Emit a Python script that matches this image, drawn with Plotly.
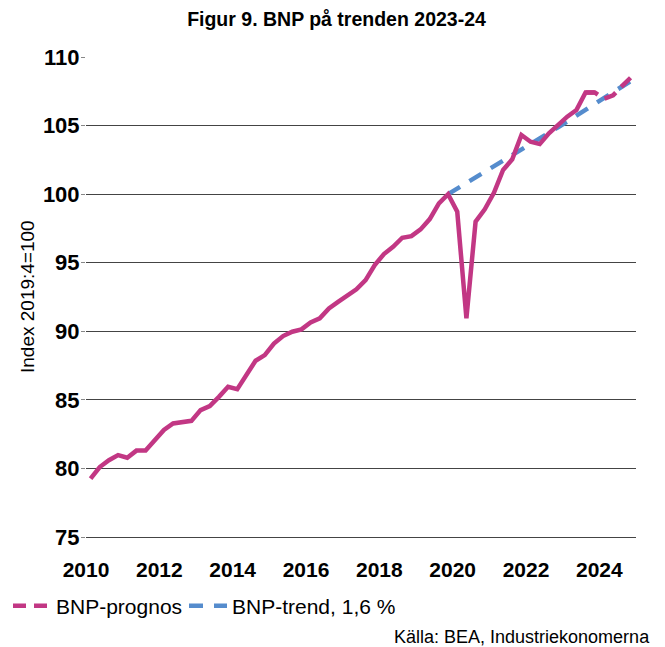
import plotly.graph_objects as go

# Quarterly BNP index (2019:4 = 100), 2010:1 .. 2023:4
start_year = 2010
bnp = [
    79.25, 80.10, 80.60, 80.97,
    80.78, 81.30, 81.30, 82.06,
    82.80, 83.28, 83.38, 83.47,
    84.25, 84.55, 85.22, 85.95,
    85.78, 86.80, 87.85, 88.26,
    89.10, 89.65, 89.97, 90.14,
    90.65, 90.94, 91.67, 92.15,
    92.59, 93.06, 93.73, 94.83,
    95.63, 96.16, 96.82, 96.94,
    97.43, 98.18, 99.33, 100.00,
    98.72, 90.95, 97.99, 98.89,
    100.10, 101.76, 102.54, 104.31,
    103.82, 103.65, 104.43, 105.09,
    105.65, 106.13, 107.42, 107.42,
]
# Forecast 2023:3 .. 2024:4
prognos_start = (2023, 3)
prognos = [107.42, 107.42, 106.95, 107.20, 107.90, 108.55]
# Trend 1,6 % per year, 2019:4 .. 2024:4
trend_start = (2019, 4)
trend = [100.00, 100.40, 100.80, 101.20, 101.60, 102.00, 102.41, 102.82,
         103.23, 103.64, 104.05, 104.47, 104.88, 105.30, 105.72, 106.14,
         106.57, 106.99, 107.42, 107.85, 108.28]

x_ticks = [2010, 2012, 2014, 2016, 2018, 2020, 2022, 2024]
y_ticks = [75, 80, 85, 90, 95, 100, 105, 110]


def qx(year, q, n):
    """x positions (mid-quarter, in years) for n quarters starting at year:q"""
    out = []
    idx = (year * 4) + (q - 1)
    for i in range(n):
        k = idx + i
        out.append(k // 4 + ((k % 4) + 0.5) / 4)
    return out


MAG = "#C23784"
BLU = "#558CCD"

fig = go.Figure()
fig.add_trace(go.Scatter(
    x=qx(*trend_start, len(trend)), y=trend, mode="lines",
    name="BNP-trend, 1,6 %", legend="legend2",
    line=dict(color=BLU, width=4.5, dash="14px,11px"),
))
fig.add_trace(go.Scatter(
    x=qx(start_year, 1, len(bnp)), y=bnp, mode="lines",
    name="BNP", showlegend=False,
    line=dict(color=MAG, width=4.5),
))
fig.add_trace(go.Scatter(
    x=qx(*prognos_start, len(prognos)), y=prognos, mode="lines",
    name="BNP-prognos", legend="legend",
    line=dict(color=MAG, width=4.5, dash="13px,8px"),
))

FONT = "Liberation Sans, Arial, sans-serif"
# the page adds an 8px body margin, so the figure is 8px smaller
OFF = 8
W, H = 665 - OFF, 647 - OFF
L, T = 86 - OFF, 57 - OFF
R = W - (636 - OFF)
B = H - (537 - OFF)
PW, PH = W - L - R, H - T - B


def px_x(px):
    return (px - OFF - L) / PW


def px_y(py):
    return (H - B - (py - OFF)) / PH


legend_common = dict(orientation="h", xref="container", yref="container",
                     xanchor="left", y=(647 - 606) / H, yanchor="middle",
                     itemwidth=38, font=dict(size=21, family=FONT, color="black"),
                     bgcolor="rgba(0,0,0,0)")

fig.update_layout(
    width=W, height=H,
    margin=dict(l=L, r=R, t=T, b=B, autoexpand=False),
    paper_bgcolor="white", plot_bgcolor="white",
    font=dict(family=FONT, color="black"),
    title=dict(text="<b>Figur 9. BNP på trenden 2023-24</b>",
               x=0.5, xanchor="center", xref="container",
               y=1 - (19 - OFF) / H, yanchor="middle", yref="container",
               automargin=False,
               font=dict(size=19.5, family=FONT, color="black")),
    xaxis=dict(range=[2010, 2025], tickvals=x_ticks,
               ticktext=[str(v) for v in x_ticks],
               showgrid=False, zeroline=False, automargin=False,
               showline=True, linecolor="#444444", linewidth=1,
               ticks="", ticklabelstandoff=14,
               tickfont=dict(size=21, family=FONT, color="black", weight="bold")),
    yaxis=dict(range=[75, 110], tickvals=y_ticks,
               showgrid=True, gridcolor="#444444", gridwidth=1,
               zeroline=False, showline=False, automargin=False,
               ticks="outside", ticklen=4, tickcolor="#888888",
               ticklabelstandoff=-3,
               tickfont=dict(size=22, family=FONT, color="black", weight="bold")),
    showlegend=True,
    legend=dict(x=0.0, **legend_common),
    legend2=dict(x=(184 - OFF) / W, **legend_common),
    annotations=[
        dict(text="Index 2019:4=100", textangle=-90,
             xref="paper", x=px_x(27), xanchor="center",
             yref="paper", y=0.5, yanchor="middle", showarrow=False,
             font=dict(size=19, family=FONT, color="black")),
        dict(text="Källa: BEA, Industriekonomerna",
             xref="paper", x=px_x(652), xanchor="right",
             yref="paper", y=px_y(637), yanchor="middle", showarrow=False,
             font=dict(size=18, family=FONT, color="black")),
    ],
)

fig.write_html("out.html")
